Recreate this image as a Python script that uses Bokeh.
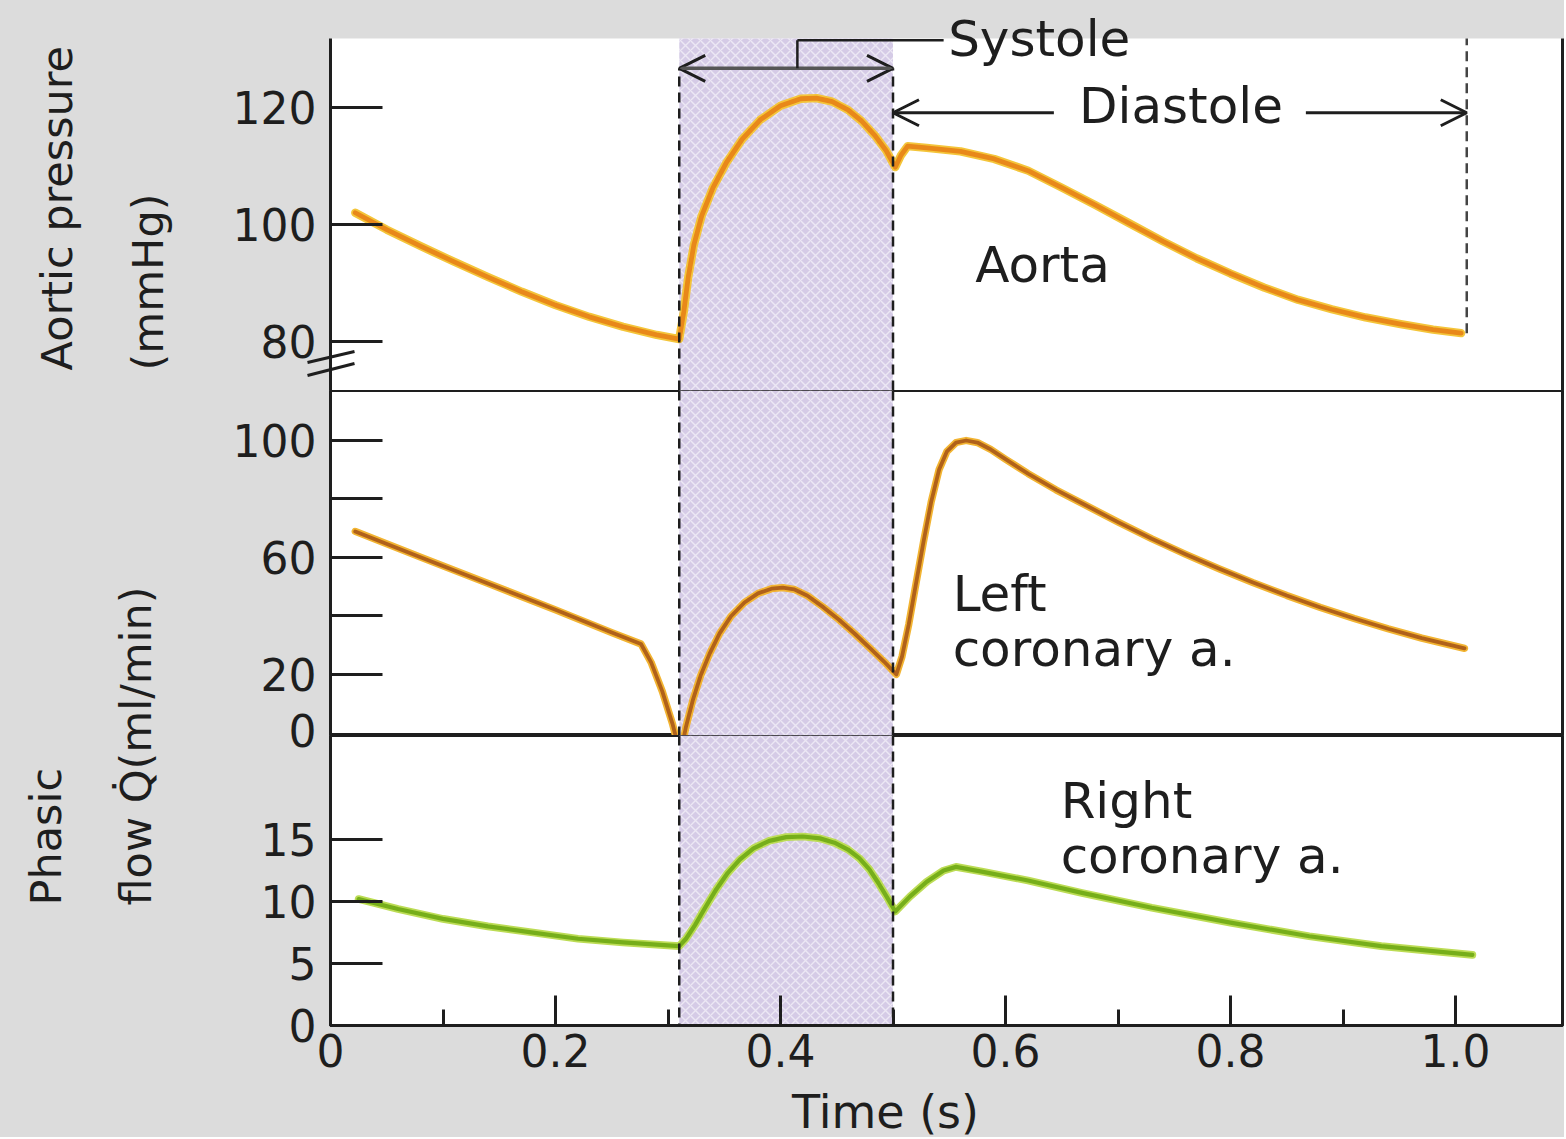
import math
from bokeh.plotting import figure
from bokeh.layouts import row, column
from bokeh.models import (Range1d, LinearAxis, FixedTicker, BoxAnnotation, Span,
                          Label, Arrow, OpenHead, GridBox)
from bokeh.embed import file_html
from bokeh.resources import INLINE

# ---------------- data ----------------
aorta_t = [0.022, 0.05, 0.08, 0.11, 0.14, 0.17, 0.20, 0.23, 0.26, 0.29, 0.31,
           0.314, 0.318, 0.323, 0.33, 0.34, 0.352, 0.366, 0.382, 0.40, 0.418,
           0.432, 0.446, 0.46, 0.472, 0.484, 0.494, 0.502,
           0.507, 0.513, 0.53, 0.56, 0.59, 0.62, 0.65, 0.68, 0.71, 0.74, 0.77,
           0.80, 0.83, 0.86, 0.89, 0.92, 0.95, 0.98, 1.005]
aorta_p = [102.0, 99.1, 96.3, 93.6, 91.0, 88.5, 86.2, 84.2, 82.5, 81.1, 80.4,
           85.0, 91.0, 96.5, 101.5, 106.3, 110.6, 114.6, 117.9, 120.3, 121.5,
           121.6, 121.0, 119.6, 117.7, 115.2, 112.6, 109.8,
           111.8, 113.4, 113.1, 112.5, 111.2, 109.2, 106.3, 103.3, 100.2, 97.1, 94.2,
           91.6, 89.2, 87.1, 85.5, 84.1, 83.0, 82.0, 81.4]

left_t = [0.022, 0.08, 0.14, 0.2, 0.25, 0.276, 0.285, 0.295, 0.304, 0.311,
          0.316, 0.322, 0.329, 0.337, 0.346, 0.356, 0.368, 0.38, 0.392, 0.402,
          0.412, 0.424, 0.438, 0.452, 0.466, 0.48, 0.492, 0.503,
          0.508, 0.514, 0.52, 0.527, 0.534, 0.541, 0.548, 0.556, 0.565, 0.575,
          0.587, 0.60, 0.62, 0.645, 0.67, 0.70, 0.73, 0.76, 0.79, 0.82, 0.85,
          0.88, 0.91, 0.94, 0.97, 1.008]
left_q = [68.8, 60.0, 51.0, 42.0, 34.2, 30.3, 24.0, 14.0, 3.0, -7.5,
          2.0, 11.0, 19.5, 27.0, 34.0, 39.8, 44.5, 47.6, 49.2, 49.6,
          49.0, 46.8, 42.9, 38.6, 33.8, 28.7, 24.3, 19.9,
          26.0, 37.0, 50.0, 65.0, 79.0, 90.0, 96.2, 99.2, 99.9, 99.2,
          96.8, 93.5, 88.6, 83.0, 78.0, 72.0, 66.3, 61.0, 56.0, 51.3, 46.9,
          42.8, 39.0, 35.5, 32.3, 28.8]

right_t = [0.025, 0.06, 0.10, 0.14, 0.18, 0.22, 0.26, 0.31,
           0.316, 0.324, 0.333, 0.343, 0.353, 0.364, 0.376, 0.39, 0.405, 0.42,
           0.435, 0.448, 0.46, 0.47, 0.479, 0.487, 0.495, 0.502,
           0.515, 0.53, 0.545, 0.556, 0.58, 0.62, 0.668, 0.73, 0.80, 0.87,
           0.934, 0.98, 1.015]
right_q = [10.2, 9.4, 8.6, 8.0, 7.5, 7.0, 6.7, 6.4,
           7.0, 8.1, 9.5, 11.0, 12.3, 13.4, 14.3, 14.9, 15.2, 15.25,
           15.1, 14.75, 14.2, 13.5, 12.6, 11.5, 10.3, 9.2,
           10.4, 11.6, 12.5, 12.8, 12.4, 11.7, 10.7, 9.5, 8.3, 7.2,
           6.4, 6.0, 5.7]

x_major_ticks = [0, 0.2, 0.4, 0.6, 0.8, 1.0]
x_minor_ticks = [0.1, 0.3, 0.5, 0.7, 0.9]
aorta_ticks = [80, 100, 120]
left_ticks = [20, 40, 60, 80, 100]
left_unlabelled = [40, 80]
left_zero_label = "0"
right_ticks = [0, 5, 10, 15]

systole = (0.31, 0.50)
diastole_end = 1.01

# ---------------- style / layout ----------------
FONT = "DejaVu Sans"
BG = "#dcdcdc"
INK = "#1e1e1e"
TICK_FS = "44px"
ANN_FS = "50px"
TICK_LEN = 52          # px, inward y ticks

PANEL_W = 1364
LAB_W = 200
BORDER_L, BORDER_R = 130, 2
H_TOP, H_MID, H_BOT = 390, 345, 402
PX_PER_S = 1125.0
W_ALL = LAB_W + PANEL_W
H_ALL = H_TOP + H_MID + H_BOT

xr = Range1d(0, (PANEL_W - BORDER_L - BORDER_R) / PX_PER_S)
top_range = Range1d(71.6, 138.3)
AORTA_TOP = 131.8      # upper edge of the white plotting area
mid_range = Range1d(-1, 117)
bot_range = Range1d(0, 23.4)


def style_yaxis(ax, ticks):
    ax.ticker = FixedTicker(ticks=ticks, minor_ticks=[])
    ax.axis_line_width = 3
    ax.axis_line_color = INK
    ax.major_tick_in = TICK_LEN
    ax.major_tick_out = 0
    ax.minor_tick_line_color = None
    ax.major_tick_line_width = 3
    ax.major_tick_line_color = INK
    ax.major_label_text_font = FONT
    ax.major_label_text_font_size = TICK_FS
    ax.major_label_text_color = INK
    ax.major_label_standoff = 14


def make_panel(height, y_range, ticks, min_top, min_bottom, x_axis=False,
               bg="white", band_top=None, spans=True):
    p = figure(width=PANEL_W, height=height, x_range=xr, y_range=y_range,
               output_backend="svg", toolbar_location=None,
               min_border_left=BORDER_L, min_border_right=BORDER_R,
               min_border_top=min_top, min_border_bottom=min_bottom,
               x_axis_location="below" if x_axis else None,
               background_fill_color=bg, border_fill_color=BG)
    p.grid.visible = False
    style_yaxis(p.yaxis[0], ticks)
    rax = LinearAxis(ticker=FixedTicker(ticks=[]), major_label_text_font_size="0px",
                     axis_line_width=3, axis_line_color=INK, major_tick_out=0,
                     major_label_standoff=0, minor_tick_line_color=None)
    p.add_layout(rax, "right")
    if band_top is not None:
        p.add_layout(BoxAnnotation(top=band_top, level="underlay", fill_color="white",
                                   fill_alpha=1.0, line_color=None))
    p.add_layout(BoxAnnotation(left=systole[0], right=systole[1], top=band_top,
                               level="underlay", fill_color="#d5cbe6", fill_alpha=1.0,
                               hatch_pattern="diagonal_cross", hatch_color="white",
                               hatch_alpha=0.55, hatch_scale=10, hatch_weight=1.4,
                               line_color=None))
    if spans:
        for loc in systole:
            p.add_layout(Span(location=loc, dimension="height", line_color=INK,
                              line_width=2.5, line_dash="10 6"))
    return p, rax


def curve(p, xs, ys, halo, core, w):
    p.line(xs, ys, line_color=halo, line_width=w + 3.5, line_join="round", line_cap="round")
    p.line(xs, ys, line_color=core, line_width=w, line_join="round", line_cap="round")


def label(p, x, y, text, align="left", size=ANN_FS, **kw):
    p.add_layout(Label(x=x, y=y, text=text, text_font=FONT, text_font_size=size,
                       text_color=INK, text_align=align, text_baseline="middle", **kw))


def plain(x0, y0, x1, y1, width=2.5, color=INK, dash="solid"):
    return Arrow(start=None, end=None, x_start=x0, y_start=y0, x_end=x1, y_end=y1,
                 line_width=width, line_color=color, line_dash=dash)


# ---------------- top panel: aortic pressure ----------------
top, top_rax = make_panel(H_TOP, top_range, aorta_ticks, 0, 0, bg=BG,
                          band_top=AORTA_TOP, spans=False)
top.outline_line_color = None
top.yaxis[0].bounds = (top_range.start, AORTA_TOP)
top_rax.bounds = (top_range.start, AORTA_TOP)
curve(top, aorta_t, aorta_p, "#f4c53a", "#e8881a", 4.8)
label(top, 0.573, 93.0, "Aorta")
label(top, 0.549, 131.8, "Systole")
label(top, 0.756, 120.3, "Diastole", align="center")

SYS_ARROW_Y = 126.7
DIA_ARROW_Y = 119.1
for loc in systole:
    top.add_layout(plain(loc, top_range.start, loc, SYS_ARROW_Y, dash="10 6"))
head = dict(size=26, line_width=3, line_color=INK)
top.add_layout(Arrow(start=OpenHead(**head), end=OpenHead(**head),
                     x_start=systole[0], y_start=SYS_ARROW_Y, x_end=systole[1],
                     y_end=SYS_ARROW_Y, line_width=3.5, line_color="#555555"))
top.add_layout(plain(0.415, SYS_ARROW_Y, 0.415, 131.5))
top.add_layout(plain(0.415, 131.5, 0.545, 131.5))
top.add_layout(Arrow(start=None, end=OpenHead(**head), x_start=0.643, y_start=DIA_ARROW_Y,
                     x_end=systole[1], y_end=DIA_ARROW_Y, line_width=3, line_color=INK))
top.add_layout(Arrow(start=None, end=OpenHead(**head), x_start=0.867, y_start=DIA_ARROW_Y,
                     x_end=diastole_end, y_end=DIA_ARROW_Y, line_width=3, line_color=INK))
top.add_layout(plain(diastole_end, aorta_p[-1], diastole_end, AORTA_TOP,
                     color="#444444", dash="10 6"))

# ---------------- middle panel: left coronary ----------------
mid, _ = make_panel(H_MID, mid_range, left_ticks, 0, 0)
mid.outline_line_color = INK
mid.outline_line_width = 3
ov = {}
for v in left_unlabelled:
    ov[v] = ""
    ov[str(v)] = ""
mid.yaxis[0].major_label_overrides = ov
curve(mid, left_t, left_q, "#f2b432", "#b0611a", 3.8)
label(mid, 0.553, 47.4, "Left")
label(mid, 0.553, 28.5, "coronary a.")

# ---------------- bottom panel: right coronary ----------------
bot, _ = make_panel(H_BOT, bot_range, right_ticks, 0, H_BOT - 290, x_axis=True)
bot.outline_line_color = INK
bot.outline_line_width = 3
xa = bot.xaxis[0]
xa.ticker = FixedTicker(ticks=x_major_ticks, minor_ticks=x_minor_ticks)
xa.major_label_overrides = {1: "1.0", "1": "1.0"}
xa.axis_line_width = 3
xa.axis_line_color = INK
xa.major_tick_in = 30
xa.major_tick_out = 0
xa.minor_tick_in = 16
xa.minor_tick_out = 0
xa.major_tick_line_width = 3
xa.minor_tick_line_width = 3
xa.major_tick_line_color = INK
xa.minor_tick_line_color = INK
xa.major_label_text_font = FONT
xa.major_label_text_font_size = TICK_FS
xa.major_label_text_color = INK
xa.major_label_standoff = 8
curve(bot, right_t, right_q, "#bcdc55", "#76ae1a", 4.2)
label(bot, 0.649, 18.1, "Right")
label(bot, 0.649, 13.7, "coronary a.")

# ---------------- left label column ----------------
lab = figure(width=LAB_W, height=H_ALL, x_range=Range1d(0, LAB_W),
             y_range=Range1d(0, H_ALL), output_backend="svg", toolbar_location=None,
             x_axis_location=None, y_axis_location=None, min_border=0,
             background_fill_color=BG, border_fill_color=BG, outline_line_color=None)
lab.grid.visible = False
for x, y, t in [(56, H_ALL - 370, "Aortic pressure"), (147, H_ALL - 370, "(mmHg)"),
                (45, H_ALL - 905, "Phasic"), (135, H_ALL - 905, "flow Q\u0307(ml/min)")]:
    lab.add_layout(Label(x=x, y=y, text=t, angle=math.pi / 2, text_font=FONT,
                         text_font_size="43px", text_color=INK, text_align="left",
                         text_baseline="middle"))

base = row(lab, column(top, mid, bot, styles={"background-color": BG}),
           styles={"background-color": BG})

# ---------------- transparent overlay (page pixels) for items that straddle panel edges ----
over = figure(width=W_ALL, height=H_ALL, x_range=Range1d(0, W_ALL), y_range=Range1d(0, H_ALL),
              output_backend="svg", toolbar_location=None,
              x_axis_location=None, y_axis_location=None, min_border=0,
              background_fill_alpha=0, border_fill_alpha=0, outline_line_color=None)
over.grid.visible = False
# lower-left "0" of the left-coronary scale (sits on the panel boundary)
over.add_layout(Label(x=LAB_W + BORDER_L - 14, y=H_ALL - 730, text=left_zero_label,
                      text_font=FONT, text_font_size=TICK_FS, text_color=INK,
                      text_align="right", text_baseline="middle"))
# x-axis title
over.add_layout(Label(x=885, y=H_ALL - 1111, text="Time (s)", text_font=FONT,
                      text_font_size="46px", text_color=INK, text_align="center",
                      text_baseline="middle"))
# axis-break marks on the pressure axis
axis_x = LAB_W + BORDER_L
for y_left, y_right in [(362, 351), (375, 363)]:
    over.add_layout(plain(axis_x - 23, H_ALL - y_left, axis_x + 24, H_ALL - y_right, width=3))

grid = GridBox(children=[(base, 0, 0), (over, 0, 0)], styles={"background-color": BG})
open("out.html", "w").write(file_html(grid, INLINE))
